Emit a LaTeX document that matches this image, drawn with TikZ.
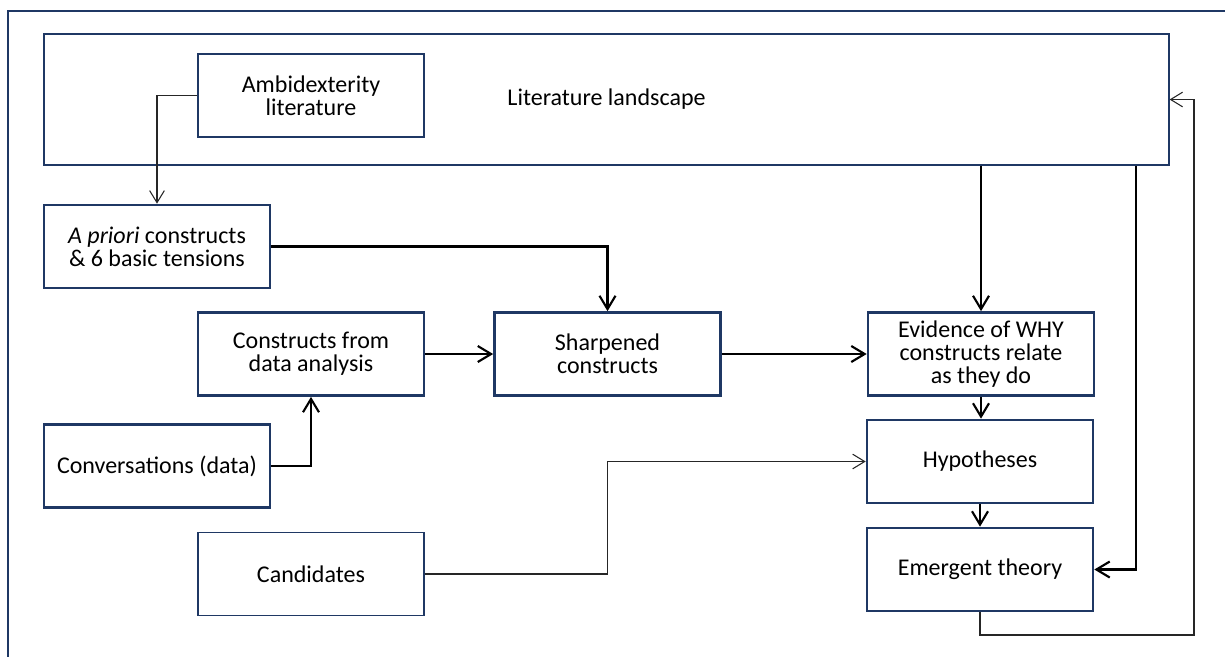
\documentclass[tikz,border=0pt]{standalone}
\usepackage{fontspec}
\setmainfont{Carlito}
\usetikzlibrary{arrows.meta,calc}
\definecolor{navy}{RGB}{31,56,100}
\newlength\pxu
\setlength\pxu{0.75pt}
\begin{document}
\begin{tikzpicture}[x=0.75pt,y=-0.75pt,
  every node/.style={font=\fontsize{18}{17}\selectfont, align=center, inner sep=0pt},
  boxbase/.style={draw=navy, fill=white, minimum width=226*\pxu, minimum height=83*\pxu},
  heavybox/.style={boxbase, line width=2pt},
  lightbox/.style={boxbase, line width=0.9pt},
  heavyflow/.style={draw=black, line width=1.6pt, -{Straight Barb[length=10pt,width=12pt]}},
  lightflow/.style={draw=black!85, line width=0.8pt, -{Straight Barb[length=9pt,width=11pt]}}]
\useasboundingbox (0,0) rectangle (1225,657);

% page frame (left and top rules only)
\draw[navy, line width=0.9pt] (8,657) -- (8,11) -- (1225,11);

% literature landscape and the box nested inside it
\node[lightbox, minimum width=1125*\pxu, minimum height=131*\pxu] (lit) at (606.5,99.5) {Literature landscape};
\node[lightbox] (amb) at (311,95.5) {Ambidexterity\\literature};

% left-hand inputs
\node[heavybox] (apriori) at (157,246.5) {\textit{A priori} constructs\\\& 6 basic tensions};
\node[heavybox] (cdata)   at (311,354)   {Constructs from\\data analysis};
\node[heavybox] (conv)    at (157,466)   {Conversations (data)};
\node[lightbox] (cand)    at (311,574)   {Candidates};

% main chain
\node[heavybox] (sharp) at (607.5,354) {Sharpened\\constructs};
\node[heavybox] (evid)  at (981,354)   {Evidence of WHY\\constructs relate\\as they do};
\node[heavybox] (hyp)   at (980,461.5) {Hypotheses};
\node[heavybox] (emerg) at (980,569.5) {Emergent theory};

% helper points for the routed connectors
\coordinate (litdrop) at ($(lit.south east)+(-34,0)$);
\coordinate (fbcorner) at (1194,635);

% connectors
\draw[lightflow] (amb.west) -| (apriori.north);
\draw[heavyflow] (apriori.east) -| (sharp.north);
\draw[heavyflow] (cdata.east) -- (sharp.west);
\draw[heavyflow] (conv.east) -| (cdata.south);
\draw[heavyflow] (sharp.east) -- (evid.west);
\draw[heavyflow] (lit.south -| evid.north) -- (evid.north);
\draw[heavyflow] (evid.south) -- (evid.south |- hyp.north);
\draw[heavyflow] (hyp.south) -- (emerg.north);
\draw[heavyflow] (litdrop) |- (emerg.east);
\draw[lightflow] (cand.east) -- (cand.east -| sharp.south) |- (hyp.west);
\draw[lightflow] (emerg.south) |- (fbcorner) |- (lit.east);
\end{tikzpicture}
\end{document}
